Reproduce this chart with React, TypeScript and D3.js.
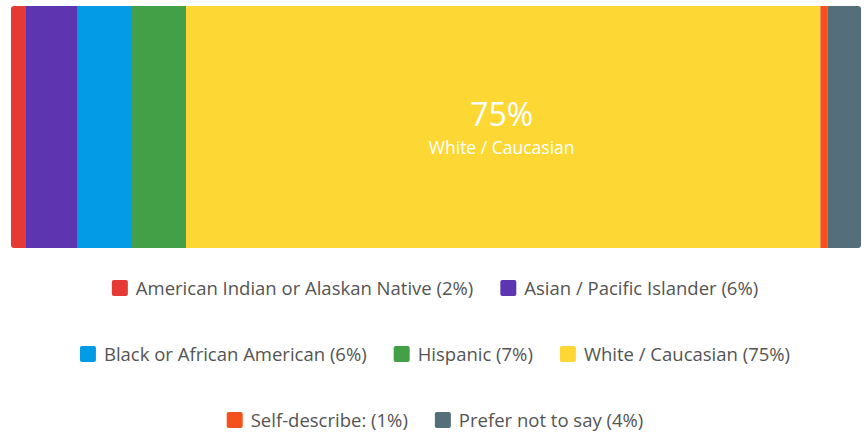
import { useEffect, useRef } from "react";
import * as d3 from "d3";

const CATEGORIES = [
  "American Indian or Alaskan Native",
  "Asian / Pacific Islander",
  "Black or African American",
  "Hispanic",
  "White / Caucasian",
  "Self-describe:",
  "Prefer not to say",
];
const SHARES = [1.76, 6.0, 6.35, 6.47, 74.6, 0.82, 3.96];
const LEGEND_PCT = ["2%", "6%", "6%", "7%", "75%", "1%", "4%"];
const COLORS = ["#E53935", "#5E35B1", "#039BE5", "#43A047", "#FDD835", "#F4511E", "#546E7A"];
const LEGEND_ROWS = [[0, 1], [2, 3, 4], [5, 6]];

const W = 866;
const H = 434;
const FONT = "'Open Sans', Roboto, sans-serif";

export default function App() {
  const svgRef = useRef<SVGSVGElement>(null);

  useEffect(() => {
    document.body.style.margin = "0";
    if (!svgRef.current) return;
    const svg = d3.select(svgRef.current);
    svg.selectAll("*").remove();

    const bar = { x0: 11, x1: 861, y0: 6, y1: 248 };
    const total = d3.sum(SHARES);
    const x = d3.scaleLinear().domain([0, total]).range([bar.x0, bar.x1]);
    const cum = d3.cumsum(SHARES);
    const starts = SHARES.map((s, i) => cum[i] - s);

    // rounded clip for the whole bar
    svg.append("defs").append("clipPath").attr("id", "barclip")
      .append("rect")
      .attr("x", bar.x0).attr("y", bar.y0)
      .attr("width", bar.x1 - bar.x0).attr("height", bar.y1 - bar.y0)
      .attr("rx", 3);

    const g = svg.append("g").attr("clip-path", "url(#barclip)");
    g.selectAll("rect")
      .data(SHARES)
      .join("rect")
      .attr("x", (_, i) => x(starts[i]))
      .attr("y", bar.y0)
      .attr("width", (d) => x(d) - x(0))
      .attr("height", bar.y1 - bar.y0)
      .attr("fill", (_, i) => COLORS[i]);

    // label on the biggest segment
    const big = d3.maxIndex(SHARES);
    const cx = x(starts[big] + SHARES[big] / 2) - 1.5;
    svg.append("text")
      .attr("x", cx).attr("y", 126)
      .attr("text-anchor", "middle")
      .attr("fill", "#fff")
      .attr("font-family", FONT)
      .attr("font-size", 32)
      .text(`${Math.round(SHARES[big])}%`);
    svg.append("text")
      .attr("x", cx).attr("y", 154)
      .attr("text-anchor", "middle")
      .attr("fill", "#fff")
      .attr("font-family", FONT)
      .attr("font-size", 17.5)
      .text(CATEGORIES[big]);

    // legend
    const rowY = [288, 354, 420];
    const sw = 16;
    const gap = 27;
    LEGEND_ROWS.forEach((row, r) => {
      const lg = svg.append("g");
      let cursor = 0;
      row.forEach((i) => {
        const item = lg.append("g").attr("transform", `translate(${cursor},0)`);
        item.append("rect")
          .attr("x", 0).attr("y", rowY[r] - sw / 2)
          .attr("width", sw).attr("height", sw)
          .attr("rx", 2)
          .attr("fill", COLORS[i]);
        const t = item.append("text")
          .attr("x", sw + 8).attr("y", rowY[r] + 6.5)
          .attr("fill", "#545454")
          .attr("font-family", FONT)
          .attr("font-size", 18.5)
          .text(`${CATEGORIES[i]} (${LEGEND_PCT[i]})`);
        const tw = (t.node() as SVGTextElement).getComputedTextLength();
        cursor += sw + 8 + tw + gap;
      });
      const rowW = cursor - gap;
      lg.attr("transform", `translate(${(W - rowW) / 2 + 2},0)`);
    });
  }, []);

  return <svg ref={svgRef} width={W} height={H} style={{ display: "block" }} />;
}
